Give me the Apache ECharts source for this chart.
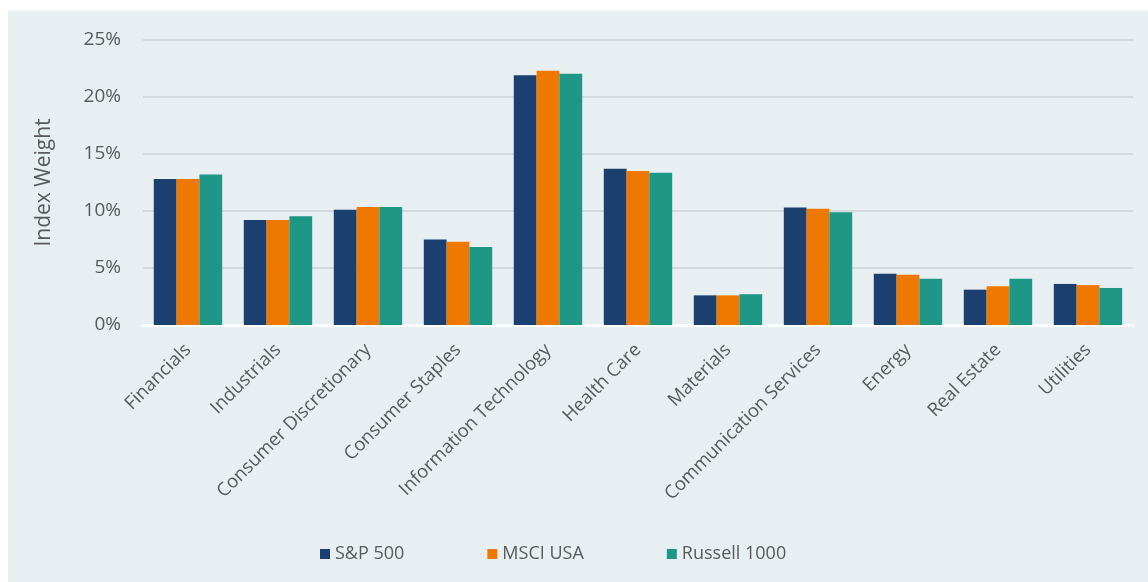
<!DOCTYPE html>
<html>
<head>
<meta charset="utf-8">
<script src="https://cdn.jsdelivr.net/npm/echarts@6/dist/echarts.min.js"></script>
<style>
  html, body { margin: 0; padding: 0; background: #ffffff; }
  #chart {
    position: absolute;
    left: 8px;
    top: 11px;
    width: 1140px;
    height: 571px;
    background: #e8eff2;
  }
</style>
</head>
<body>
<div id="chart"></div>
<script>
// sectors on the x axis
const sectors = [
  'Financials', 'Industrials', 'Consumer Discretionary', 'Consumer Staples',
  'Information Technology', 'Health Care', 'Materials', 'Communication Services',
  'Energy', 'Real Estate', 'Utilities'
]
// index weights, in %
const sp500 = [12.8, 9.2, 10.1, 7.5, 21.9, 13.7, 2.6, 10.3, 4.5, 3.1, 3.6]
const msciUsa = [12.8, 9.2, 10.35, 7.3, 22.3, 13.5, 2.6, 10.2, 4.4, 3.4, 3.5]
const russell1000 = [13.2, 9.55, 10.35, 6.85, 22.05, 13.35, 2.7, 9.9, 4.05, 4.05, 3.25]
const yTicks = [0, 5, 10, 15, 20, 25]

const textColor = '#595959'
const font = '"Open Sans", sans-serif'

const chart = echarts.init(document.getElementById('chart'))

const seriesList = [
  { name: 'S&P 500', data: sp500, color: '#1b3f6e' },
  { name: 'MSCI USA', data: msciUsa, color: '#ee7800' },
  { name: 'Russell 1000', data: russell1000, color: '#1f9787' },
]

chart.setOption({
  animation: false,
  textStyle: { fontFamily: font },
  grid: { left: 135, right: 15, top: 29, bottom: 257 },
  legend: {
    bottom: 14,
    left: 307,
    itemWidth: 10,
    itemHeight: 10,
    itemGap: 83,
    icon: 'rect',
    textStyle: { color: textColor, fontSize: 18, fontFamily: font },
    data: seriesList.map((s) => s.name),
  },
  xAxis: {
    type: 'category',
    data: sectors,
    axisLine: { lineStyle: { color: '#ffffff', width: 3 } },
    axisTick: { show: false },
    axisLabel: {
      rotate: 45,
      interval: 0,
      margin: 22,
      color: textColor,
      fontSize: 18.5,
      fontFamily: font,
    },
  },
  yAxis: {
    type: 'value',
    min: yTicks[0],
    max: yTicks[yTicks.length - 1],
    interval: 5,
    name: 'Index Weight',
    nameLocation: 'middle',
    nameGap: 88,
    nameTextStyle: { color: textColor, fontSize: 21, fontFamily: font },
    axisLine: { show: false },
    axisTick: { show: false },
    axisLabel: {
      margin: 22,
      color: textColor,
      fontSize: 19,
      fontFamily: font,
      formatter: '{value}%',
    },
    splitLine: { lineStyle: { color: '#d3dadd', width: 2 } },
  },
  series: seriesList.map((s) => ({
    name: s.name,
    type: 'bar',
    data: s.data,
    itemStyle: { color: s.color },
    barGap: '0%',
    barCategoryGap: '24%',
  })),
})
</script>
</body>
</html>
